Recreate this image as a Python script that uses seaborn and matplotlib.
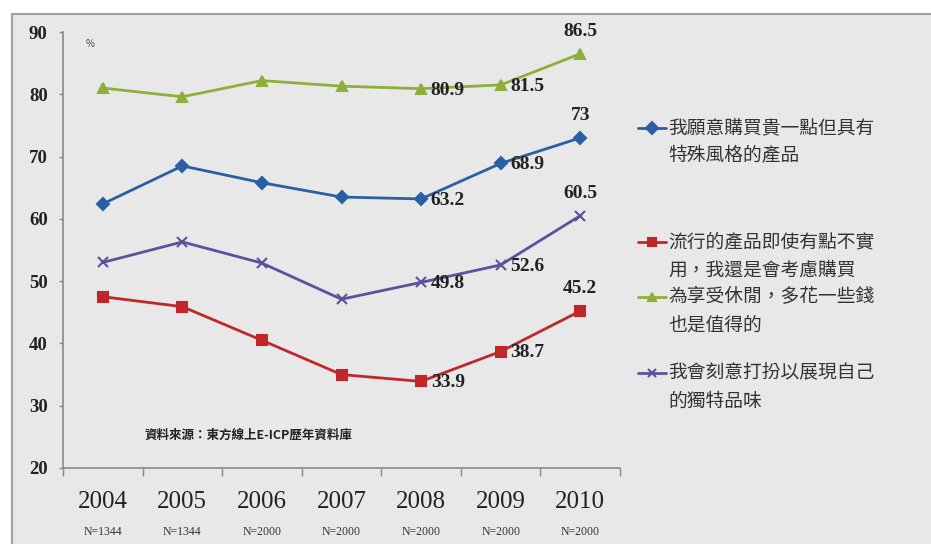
import numpy as np
import pandas as pd
import matplotlib
matplotlib.use('Agg')
import matplotlib.pyplot as plt
from matplotlib.patches import Rectangle
import seaborn as sns

# ─── data ─────────────────────────────────────────────────────────────
years = ["2004", "2005", "2006", "2007", "2008", "2009", "2010"]
sample_sizes = ["N=1344", "N=1344", "N=2000", "N=2000", "N=2000", "N=2000", "N=2000"]

series_names = [
    "我願意購買貴一點但具有\n特殊風格的產品",
    "流行的產品即使有點不實\n用，我還是會考慮購買",
    "為享受休閒，多花一些錢\n也是值得的",
    "我會刻意打扮以展現自己\n的獨特品味",
]
unique_style = [62.4, 68.5, 65.8, 63.5, 63.2, 68.9, 73.0]
trendy_buy = [47.5, 45.9, 40.5, 35.0, 33.9, 38.7, 45.2]
leisure_spend = [81.0, 79.6, 82.2, 81.3, 80.9, 81.5, 86.5]
dress_up = [53.0, 56.3, 52.9, 47.1, 49.8, 52.6, 60.5]

labelled_years = ["2008", "2009", "2010"]
source_note = "資料來源：東方線上E-ICP歷年資料庫"

colors = ["#2a5fa3", "#c0262a", "#8cb03a", "#5f4f9c"]
markers = ["D", "s", "^", "x"]

values = [unique_style, trendy_buy, leisure_spend, dress_up]
df = pd.DataFrame({
    "year": np.tile(np.arange(len(years)), len(series_names)),
    "value": np.concatenate(values),
    "series": np.repeat(series_names, len(years)),
})

# ─── plot ─────────────────────────────────────────────────────────────
sns.set_style("white")
plt.rcParams['font.family'] = ['Noto Sans CJK TC', 'DejaVu Sans']

fig = plt.figure(figsize=(9.31, 5.44), dpi=100)
fig.patches.append(Rectangle((12 / 931, -0.1), 1.0, 1 - 14 / 544 + 0.1,
                             transform=fig.transFigure, facecolor="#e8e8e8",
                             edgecolor="#a0a0a0", linewidth=1.5, zorder=-10))
ax = fig.add_axes([63 / 931, 1 - 468 / 544, 557 / 931, 436 / 544])
ax.set_facecolor("none")

for name, c, m in zip(series_names, colors, markers):
    sub = df[df["series"] == name]
    sns.lineplot(data=sub, x="year", y="value", color=c, marker=m,
                 linewidth=2.0, markersize=6.5, markeredgewidth=1.5,
                 markeredgecolor=c, ax=ax, legend=False)

serif = {"family": "Liberation Serif", "weight": "bold"}

# data labels
for vals in values:
    for name in labelled_years:
        i = years.index(name)
        v = vals[i]
        txt = f"{v:g}"
        if name == "2010":
            ax.annotate(txt, (i, v), xytext=(0, 10), textcoords="offset points",
                        ha="center", va="bottom", fontsize=14, color="#222222", **serif)
        else:
            ax.annotate(txt, (i, v), xytext=(7, -1), textcoords="offset points",
                        ha="left", va="center", fontsize=14, color="#222222", **serif)

ax.set_xlim(-0.5, len(years) - 0.5)
ax.set_ylim(20, 90)
ax.set_yticks(range(20, 91, 10))
ax.set_yticklabels([str(t) for t in range(20, 91, 10)], fontsize=13.5, color="#222222", **serif)
ax.set_xticks(np.arange(-0.5, len(years), 1.0))
ax.set_xticklabels([])
ax.tick_params(axis="y", left=True, direction="out", length=3, width=1, color="#888888", pad=8)
ax.tick_params(axis="x", bottom=True, direction="out", length=6, width=1, color="#888888")
for i, (yr, n) in enumerate(zip(years, sample_sizes)):
    ax.text(i, -0.052, yr, transform=ax.get_xaxis_transform(), ha="center", va="top",
            fontsize=18, color="#222222", family="Liberation Serif")
    ax.text(i, -0.132, n, transform=ax.get_xaxis_transform(), ha="center", va="top",
            fontsize=8.5, color="#333333", family="Liberation Serif")
ax.set_xlabel("")
ax.set_ylabel("")
for side in ["top", "right"]:
    ax.spines[side].set_visible(False)
for side in ["left", "bottom"]:
    ax.spines[side].set_color("#8a8a8a")
    ax.spines[side].set_linewidth(1.2)

ax.text(0.04, 0.985, "%", transform=ax.transAxes, fontsize=7, color="#444444",
        ha="left", va="top")
ax.text(0.147, 0.075, source_note, transform=ax.transAxes, fontsize=9,
        weight="bold", color="#222222", ha="left", va="center")

# legend on the right
leg_y = [128, 242, 297, 373]
for name, c, m, yy in zip(series_names, colors, markers, leg_y):
    fy = 1 - yy / 544
    fig.add_artist(plt.Line2D([638 / 931, 666 / 931], [fy, fy], transform=fig.transFigure,
                              color=c, linewidth=2.0))
    fig.add_artist(plt.Line2D([652 / 931], [fy], transform=fig.transFigure, color=c,
                              marker=m, markersize=6, markeredgecolor=c, markeredgewidth=1.5))
    fig.text(668 / 931, 1 - (yy + 14) / 544, name, ha="left", va="center", fontsize=13.5,
             color="#333333", linespacing=1.45)

plt.savefig("out.png", dpi=100)
